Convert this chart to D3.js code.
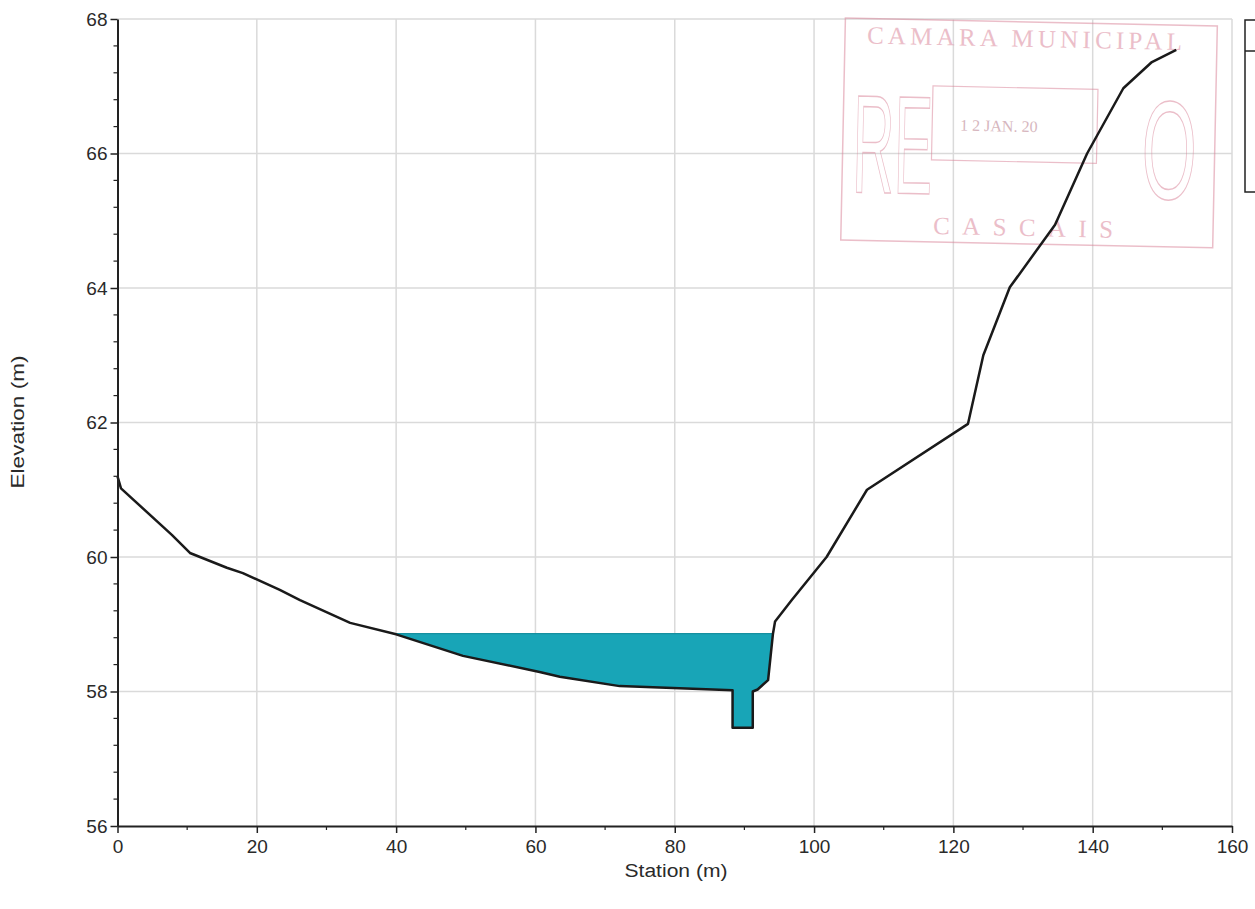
<!DOCTYPE html>
<html><head><meta charset="utf-8">
<script src="https://cdn.jsdelivr.net/npm/d3@7"></script>
<style>
html,body{margin:0;padding:0;background:#fff;}
svg{display:block;font-family:"Liberation Sans",Arial,sans-serif;}
</style></head>
<body>
<svg id="c" width="1255" height="909"></svg>
<script>
// Ground profile (Station m, Elevation m)
const station   = [0, 0.5, 7.8, 10.4, 15.7, 18.0, 23.3, 26.2, 33.4, 40.0, 49.6, 60.6, 63.5, 72.1, 88.3, 88.3, 91.2, 91.2, 91.9, 93.4, 94.1, 94.4, 96.8, 101.8, 107.6, 122.1, 124.3, 128.1, 134.6, 139.2, 144.4, 148.5, 152.0];
const elevation = [61.2, 61.02, 60.33, 60.06, 59.84, 59.76, 59.51, 59.36, 59.02, 58.85, 58.53, 58.29, 58.22, 58.08, 58.02, 57.46, 57.46, 58.0, 58.03, 58.17, 58.86, 59.04, 59.36, 60.0, 61.0, 61.98, 63.0, 64.01, 64.94, 66.0, 66.97, 67.36, 67.54];
const waterSurface = 58.86;
const waterLeft = 39.9, waterRight = 94.1;
const xTicks = [0, 20, 40, 60, 80, 100, 120, 140, 160];
const yTicks = [56, 58, 60, 62, 64, 66, 68];
const xTitle = "Station (m)";
const yTitle = "Elevation (m)";
const stampTop = "CAMARA MUNICIPAL";
const stampBottom = "CASCAIS";
const stampDate = "1 2 JAN. 20";

const svg = d3.select("#c");
const L = 117.5, R = 1232, T = 19, B = 826;
const x = d3.scaleLinear().domain([0, 160]).range([L, R]);
const y = d3.scaleLinear().domain([56, 68]).range([B, T]);

// grid
const g = svg.append("g");
g.selectAll(".gx").data(xTicks.slice(1)).join("line")
  .attr("x1", d => x(d)).attr("x2", d => x(d)).attr("y1", T).attr("y2", B)
  .attr("stroke", "#dadada").attr("stroke-width", 1.5);
g.selectAll(".gy").data(yTicks.slice(1)).join("line")
  .attr("x1", L).attr("x2", R).attr("y1", d => y(d)).attr("y2", d => y(d))
  .attr("stroke", "#dadada").attr("stroke-width", 1.5);

// stamp (faint red)
const st = svg.append("g").attr("transform", "rotate(1.2 1030 135)").attr("opacity", 0.5);
const sc = "#d97f95";
st.append("rect").attr("x", 843).attr("y", 22).attr("width", 372).attr("height", 222)
  .attr("fill", "none").attr("stroke", sc).attr("stroke-width", 1.5);
st.append("text").attr("x", 865).attr("y", 47)
  .attr("font-family", "Liberation Serif, serif").attr("font-size", 25)
  .attr("textLength", 315).attr("lengthAdjust", "spacing")
  .attr("fill", sc).text(stampTop);
st.append("text").attr("x", 935).attr("y", 236)
  .attr("font-family", "Liberation Serif, serif").attr("font-size", 25)
  .attr("textLength", 180).attr("lengthAdjust", "spacing")
  .attr("fill", sc).text(stampBottom);
st.append("text").attr("x", 853).attr("y", 196).attr("font-size", 140)
  .attr("textLength", 80).attr("lengthAdjust", "spacingAndGlyphs")
  .attr("fill", "none").attr("stroke", sc).attr("stroke-width", 1.5).text("RE");
st.append("text").attr("x", 1142).attr("y", 196).attr("font-size", 140)
  .attr("textLength", 55).attr("lengthAdjust", "spacingAndGlyphs")
  .attr("fill", "none").attr("stroke", sc).attr("stroke-width", 1.5).text("O");
st.append("rect").attr("x", 932).attr("y", 88).attr("width", 165).attr("height", 74)
  .attr("fill", "none").attr("stroke", sc).attr("stroke-width", 1.2);
st.append("text").attr("x", 960).attr("y", 132).attr("font-size", 16)
  .attr("font-family", "Liberation Serif, serif").attr("fill", "#b07080").text(stampDate);

// water fill polygon
const pts = station.map((s, i) => [s, elevation[i]]);
const inner = pts.filter(p => p[0] > waterLeft && p[0] < waterRight);
const waterPoly = [[waterLeft, waterSurface], ...inner, [waterRight, waterSurface]];
svg.append("path").datum(waterPoly)
  .attr("d", d3.line().x(d => x(d[0])).y(d => y(d[1])).curve(d3.curveLinearClosed))
  .attr("fill", "#18a5b7");
svg.append("line").attr("x1", x(waterLeft)).attr("x2", x(waterRight))
  .attr("y1", y(waterSurface)).attr("y2", y(waterSurface))
  .attr("stroke", "#1590a0").attr("stroke-width", 1.2);

// ground line
const line = d3.line().x(d => x(d[0])).y(d => y(d[1]));
svg.append("path").datum(pts).attr("d", line).attr("fill", "none")
  .attr("stroke", "#1a1a1a").attr("stroke-width", 2.5).attr("stroke-linejoin", "round");

// axes
const xAxis = d3.axisBottom(x).tickValues(xTicks).tickSize(7).tickSizeOuter(0).tickPadding(7);
const yAxis = d3.axisLeft(y).tickValues(yTicks).tickSize(7).tickSizeOuter(0).tickPadding(3);
const gx = svg.append("g").attr("transform", `translate(0,${B})`).call(xAxis);
const gy = svg.append("g").attr("transform", `translate(${L},0)`).call(yAxis);
[gx, gy].forEach(a => {
  a.select(".domain").attr("stroke", "#222").attr("stroke-width", 2);
  a.selectAll(".tick line").attr("stroke", "#222").attr("stroke-width", 1.5);
  a.selectAll("text").attr("font-size", 19).attr("fill", "#2a2a2a").attr("font-family", "Liberation Sans, Arial, sans-serif");
});
// minor ticks
const xMinor = d3.range(10, 160, 20);
svg.append("g").selectAll("line").data(xMinor).join("line")
  .attr("x1", d => x(d)).attr("x2", d => x(d)).attr("y1", B).attr("y2", B + 4)
  .attr("stroke", "#222").attr("stroke-width", 1.2);
const yMinor = d3.range(56, 68.001, 0.4).filter(v => Math.abs(v - Math.round(v / 2) * 2) > 0.05);
svg.append("g").selectAll("line").data(yMinor).join("line")
  .attr("x1", L - 4).attr("x2", L).attr("y1", d => y(d)).attr("y2", d => y(d))
  .attr("stroke", "#222").attr("stroke-width", 1.2);

// titles
svg.append("text").attr("x", 676).attr("y", 877).attr("text-anchor", "middle")
  .attr("font-size", 18).attr("textLength", 103).attr("lengthAdjust", "spacingAndGlyphs")
  .attr("fill", "#2a2a2a").text(xTitle);
svg.append("text").attr("transform", `translate(24,422) rotate(-90)`)
  .attr("text-anchor", "middle").attr("font-size", 19).attr("textLength", 133).attr("lengthAdjust", "spacingAndGlyphs")
  .attr("fill", "#2a2a2a").text(yTitle);

// legend box (cut at the right edge)
svg.append("rect").attr("x", 1245).attr("y", 20).attr("width", 30).attr("height", 172)
  .attr("fill", "#fff").attr("stroke", "#222").attr("stroke-width", 1.5);
svg.append("line").attr("x1", 1245).attr("x2", 1255).attr("y1", 51).attr("y2", 51)
  .attr("stroke", "#222").attr("stroke-width", 1.5);
</script>
</body></html>
